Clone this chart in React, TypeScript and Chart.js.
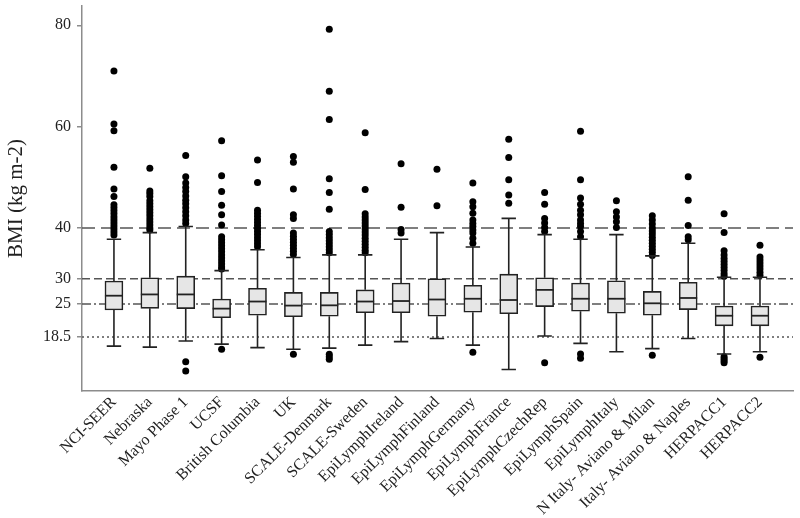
import React, { useEffect, useRef } from "react";
import { Chart, registerables } from "chart.js";

Chart.register(...registerables);

const categories = [
  "NCI-SEER",
  "Nebraska",
  "Mayo Phase 1",
  "UCSF",
  "British Columbia",
  "UK",
  "SCALE-Denmark",
  "SCALE-Sweden",
  "EpiLymphIreland",
  "EpiLymphFinland",
  "EpiLymphGermany",
  "EpiLymphFrance",
  "EpiLymphCzechRep",
  "EpiLymphSpain",
  "EpiLymphItaly",
  "N Italy- Aviano & Milan",
  "Italy- Aviano & Naples",
  "HERPACC1",
  "HERPACC2",
];

const q1 = [23.83, 24.16, 24.1, 22.3, 22.8, 22.5, 22.6, 23.3, 23.3, 22.6, 23.4, 23.1, 24.5, 23.6, 23.2, 22.8, 23.9, 20.7, 20.7];
const median = [26.65, 26.9, 26.9, 24.1, 25.5, 24.7, 24.75, 25.5, 25.6, 25.9, 26.05, 25.8, 27.8, 26.05, 26.05, 25.15, 26.2, 22.7, 22.7];
const q3 = [29.55, 30.2, 30.5, 26.0, 28.1, 27.3, 27.3, 27.8, 29.15, 30.0, 28.7, 30.9, 30.2, 29.15, 29.6, 27.5, 29.3, 24.6, 24.6];
const whiskerLow = [16.7, 16.5, 17.7, 17.1, 16.4, 16.1, 16.3, 16.9, 17.6, 18.2, 16.9, 12.1, 18.7, 17.25, 15.6, 16.2, 18.2, 15.15, 15.6];
const whiskerHigh = [37.8, 39.1, 40.3, 31.6, 35.7, 34.2, 34.7, 34.7, 37.8, 39.1, 36.25, 41.9, 38.7, 37.8, 38.7, 34.5, 37.0, 30.3, 30.3];

const outliers = [
  [71.0, 60.5, 59.2, 52.0, 47.7, 46.2, 44.6, 44.0, 43.4, 42.8, 42.2, 41.6, 41.0, 40.4, 39.8, 39.2, 38.6],
  [51.8, 47.3, 46.8, 46.2, 45.4, 44.8, 44.2, 43.6, 43.0, 42.4, 41.8, 41.2, 40.6, 40.0, 39.6],
  [54.3, 50.1, 48.9, 48.0, 47.2, 46.3, 45.5, 44.8, 44.0, 43.2, 42.4, 41.6, 40.9, 13.6, 11.8],
  [57.2, 50.3, 47.2, 44.5, 42.6, 40.6, 38.3, 37.7, 37.1, 36.5, 35.9, 35.3, 34.7, 34.1, 33.5, 32.9, 32.3, 31.9, 16.1],
  [53.4, 49.0, 43.5, 42.9, 42.3, 41.7, 41.1, 40.5, 39.9, 39.3, 38.7, 38.1, 37.5, 36.9, 36.3],
  [54.1, 53.0, 47.7, 42.6, 41.9, 39.0, 38.4, 37.8, 37.2, 36.6, 36.0, 35.4, 34.8, 15.1],
  [79.2, 67.0, 61.4, 49.7, 47.0, 43.7, 39.3, 38.7, 38.1, 37.5, 36.9, 36.3, 35.7, 35.1, 15.1, 14.6, 14.1],
  [58.8, 47.6, 42.8, 42.2, 41.6, 41.0, 40.4, 39.8, 39.2, 38.6, 38.0, 37.4, 36.8, 36.2, 35.6, 35.1],
  [52.7, 44.1, 39.7, 39.0],
  [51.6, 44.4],
  [48.9, 45.2, 44.2, 42.9, 41.6, 40.9, 40.3, 39.6, 39.0, 38.0, 37.0, 15.5],
  [57.5, 53.9, 49.5, 46.5, 44.9],
  [47.0, 44.7, 41.9, 41.0, 40.1, 39.3, 13.4],
  [59.1, 49.5, 45.9, 44.7, 43.5, 42.6, 41.6, 40.9, 40.3, 39.3, 38.3, 15.15, 14.3],
  [45.4, 43.2, 42.2, 41.25, 40.1],
  [42.4, 41.6, 40.8, 40.0, 39.4, 38.8, 38.2, 37.6, 37.0, 36.4, 35.8, 35.2, 34.6, 14.9],
  [50.1, 45.5, 40.5, 38.3, 37.7],
  [42.8, 39.1, 35.5, 34.7, 34.0, 33.4, 32.8, 32.2, 31.6, 31.0, 30.5, 14.6, 14.2, 13.8, 13.4],
  [36.6, 34.3, 33.7, 33.1, 32.5, 31.9, 31.3, 30.7, 14.5],
];

const yTickValues = [18.5, 25, 30, 40, 60, 80];
const refValues = [40, 30, 25, 18.5];
const refDashes = [
  [13, 6],
  [8, 4],
  [9, 3, 2, 3],
  [2, 3],
];

const FONT = '"Liberation Serif", "Times New Roman", serif';

export default function App() {
  const ref = useRef<HTMLCanvasElement>(null);

  useEffect(() => {
    document.body.style.margin = "0";
    const canvas = ref.current;
    if (!canvas) return;

    const boxData = categories.map((_, i) => ({ x: i, y: [q1[i], q3[i]] }));
    const outlierData = outliers.flatMap((arr, i) => arr.map((v) => ({ x: i, y: v })));

    const refLinesPlugin = {
      id: "refLines",
      beforeDatasetsDraw(chart: any) {
        const { ctx, chartArea, scales } = chart;
        ctx.save();
        ctx.strokeStyle = "#555";
        ctx.lineWidth = 1.5;
        refValues.forEach((v, k) => {
          const py = scales.y.getPixelForValue(v);
          ctx.setLineDash(refDashes[k]);
          ctx.beginPath();
          ctx.moveTo(chartArea.left, py);
          ctx.lineTo(chartArea.right, py);
          ctx.stroke();
        });
        ctx.restore();
      },
    };

    const boxPartsPlugin = {
      id: "boxParts",
      afterDatasetsDraw(chart: any) {
        const { ctx, scales } = chart;
        const meta = chart.getDatasetMeta(1);
        ctx.save();
        ctx.strokeStyle = "#222";
        ctx.lineWidth = 1.6;
        ctx.setLineDash([]);
        categories.forEach((_, i) => {
          const el = meta.data[i];
          const bw = el ? el.width : 18;
          const cx = scales.x.getPixelForValue(i);
          const yHi = scales.y.getPixelForValue(whiskerHigh[i]);
          const yLo = scales.y.getPixelForValue(whiskerLow[i]);
          const yQ1 = scales.y.getPixelForValue(q1[i]);
          const yQ3 = scales.y.getPixelForValue(q3[i]);
          const yMed = scales.y.getPixelForValue(median[i]);
          const cap = bw * 0.4;
          ctx.beginPath();
          ctx.moveTo(cx, yQ3);
          ctx.lineTo(cx, yHi);
          ctx.moveTo(cx - cap, yHi);
          ctx.lineTo(cx + cap, yHi);
          ctx.moveTo(cx, yQ1);
          ctx.lineTo(cx, yLo);
          ctx.moveTo(cx - cap, yLo);
          ctx.lineTo(cx + cap, yLo);
          ctx.stroke();
          ctx.beginPath();
          ctx.lineWidth = 1.8;
          ctx.moveTo(cx - bw / 2, yMed);
          ctx.lineTo(cx + bw / 2, yMed);
          ctx.stroke();
          ctx.lineWidth = 1.6;
        });
        ctx.restore();
      },
    };

    const zeroPad = (s: any) => {
      s.paddingLeft = 0;
      s.paddingRight = 0;
      s.paddingTop = 0;
      s.paddingBottom = 0;
    };

    const chart = new Chart(canvas, {
      type: "bar",
      data: {
        datasets: [
          {
            type: "scatter",
            data: outlierData,
            backgroundColor: "#000",
            borderWidth: 0,
            pointRadius: 3.5,
          } as any,
          {
            type: "bar",
            data: boxData as any,
            backgroundColor: "#e6e6e6",
            borderColor: "#222",
            borderWidth: 1.6,
            borderSkipped: false,
            barThickness: 18,
          } as any,
        ],
      },
      options: {
        responsive: false,
        animation: false,
        devicePixelRatio: 1,
        layout: { padding: { top: 6, right: 7, left: 0, bottom: 0 } },
        plugins: {
          legend: { display: false },
          tooltip: { enabled: false },
        },
        scales: {
          x: {
            type: "linear",
            offset: false,
            min: -0.89,
            max: 18.92,
            afterBuildTicks: (s: any) => {
              s.ticks = categories.map((_, i) => ({ value: i }));
            },
            afterFit: (s: any) => {
              s.height = 127;
              zeroPad(s);
            },
            ticks: {
              autoSkip: false,
              minRotation: 45,
              maxRotation: 45,
              padding: 2,
              color: "#222",
              font: { family: FONT, size: 16 },
              callback: (v: any) => categories[Math.round(Number(v))] ?? "",
            },
            grid: { display: false, drawTicks: false, offset: false },
            border: { display: true, color: "#8c8c8c", width: 1.5 },
          },
          y: {
            type: "linear",
            min: 7.85,
            max: 83.8,
            afterBuildTicks: (s: any) => {
              s.ticks = yTickValues.map((v) => ({ value: v }));
            },
            afterFit: (s: any) => {
              s.width = 82;
              zeroPad(s);
            },
            ticks: {
              padding: 6,
              color: "#222",
              font: { family: FONT, size: 16 },
              callback: (v: any) => String(v),
            },
            grid: {
              display: true,
              drawOnChartArea: false,
              drawTicks: true,
              tickLength: 5,
              color: "#8c8c8c",
              lineWidth: 1.5,
            },
            border: { display: true, color: "#8c8c8c", width: 1.5 },
            title: {
              display: true,
              text: "BMI (kg m-2)",
              color: "#222",
              font: { family: FONT, size: 21 },
              padding: { top: 4, bottom: 4 },
            },
          },
        },
      },
      plugins: [refLinesPlugin, boxPartsPlugin],
    });

    return () => chart.destroy();
  }, []);

  return (
    <div style={{ width: 800, height: 518 }}>
      <canvas ref={ref} width={800} height={518} />
    </div>
  );
}
